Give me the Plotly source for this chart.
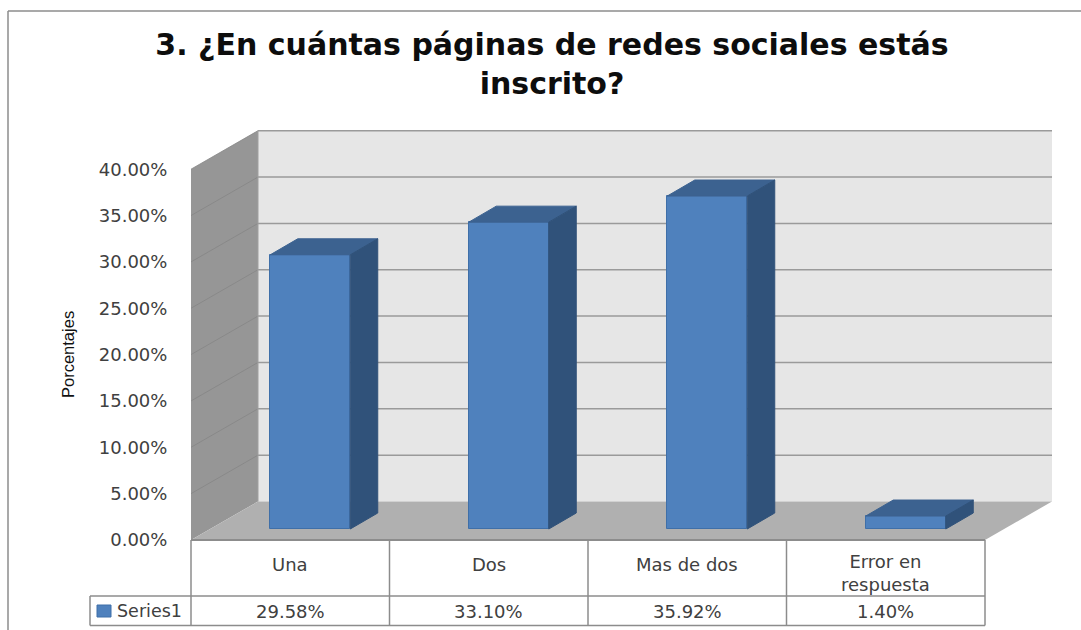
import plotly.graph_objects as go

categories = ["Una", "Dos", "Mas de dos", "Error en<br>respuesta"]
values = [29.58, 33.10, 35.92, 1.40]
value_labels = ["29.58%", "33.10%", "35.92%", "1.40%"]
tick_values = [0, 5, 10, 15, 20, 25, 30, 35, 40]
tick_labels = ["0.00%", "5.00%", "10.00%", "15.00%", "20.00%", "25.00%", "30.00%", "35.00%", "40.00%"]
series_name = "Series1"
title_text = "3. ¿En cuántas páginas de redes sociales estás<br>inscrito?"

W, H = 1081, 630
UX, UY = 198.5, 9.27          # pixels per category and per percentage point
X0_PX, Y0_PX = 191.0, 540.0   # pixel position of the front-left floor corner
def ux(px): return px / UX
def uy(px): return px / UY

n = len(categories)
wall_dx, wall_dy = ux(67), uy(38.5)   # oblique depth of the plot box
bar_x_off, bar_y_off = ux(20), uy(11)
bar_w = ux(80)
bar_dx, bar_dy = ux(27.5), uy(16)
ymax = tick_values[-1]
table_row1, table_row2 = uy(-56), uy(-85.5)
table_left = ux(-101)

fig = go.Figure()
shapes = []
annots = []

def poly(pts, fill, line=None, lw=0, layer="below"):
    path = "M" + " L".join(f"{a},{b}" for a, b in pts) + " Z"
    shapes.append(dict(type="path", path=path, xref="x", yref="y", fillcolor=fill, layer=layer,
                       line=dict(color=line or fill, width=lw)))

def seg(x1, y1, x2, y2, color="#8c8c8c", lw=1.5, layer="below"):
    shapes.append(dict(type="line", x0=x1, y0=y1, x1=x2, y1=y2, xref="x", yref="y", layer=layer,
                       line=dict(color=color, width=lw)))

# walls and floor
poly([(wall_dx, wall_dy), (n + wall_dx, wall_dy), (n + wall_dx, ymax + wall_dy), (wall_dx, ymax + wall_dy)], "#e6e6e6")
poly([(0, 0), (wall_dx, wall_dy), (wall_dx, ymax + wall_dy), (0, ymax)], "#969696")
poly([(0, 0), (n, 0), (n + wall_dx, wall_dy), (wall_dx, wall_dy)], "#b0b0b0")

# gridlines
for t in tick_values[1:]:
    seg(0, t, wall_dx, t + wall_dy, "#858585", 0.8)
    seg(wall_dx, t + wall_dy, n + wall_dx, t + wall_dy, "#9a9a9a", 1.5)
seg(wall_dx, wall_dy, wall_dx, ymax + wall_dy, "#a0a0a0", 1)

# data table
seg(0, 0, n, 0, "#8c8c8c", 2, "above")
seg(table_left, table_row1, n, table_row1)
seg(table_left, table_row2, n, table_row2)
seg(table_left, table_row1, table_left, table_row2)
for i in range(n + 1):
    seg(i, 0, i, table_row2)

# outer chart frame
frame_l, frame_t = ux(8 - X0_PX), uy(Y0_PX - 11)
right_edge, bottom_edge = ux(W - X0_PX), uy(Y0_PX - H)
seg(frame_l, frame_t, right_edge, frame_t, "#8c8c8c", 1.5)
seg(frame_l, frame_t, frame_l, bottom_edge, "#8c8c8c", 1.5)

# bars: front faces
xc = [i + 0.5 + bar_x_off for i in range(n)]
fig.add_trace(go.Bar(x=xc, y=values, base=[bar_y_off] * n, width=bar_w, name=series_name,
                     marker=dict(color="#4f81bd", line=dict(color="#3f6fa8", width=1)),
                     showlegend=False))

# bars: top and side faces derived from the values
for c, v in zip(xc, values):
    l, r = c - bar_w / 2, c + bar_w / 2
    b, t = bar_y_off, bar_y_off + v
    fig.add_trace(go.Scatter(x=[l, r, r + bar_dx, l + bar_dx, l], y=[t, t, t + bar_dy, t + bar_dy, t],
                             mode="lines", fill="toself", fillcolor="#3c6290",
                             line=dict(color="#3c6290", width=1), showlegend=False, hoverinfo="skip"))
    fig.add_trace(go.Scatter(x=[r, r + bar_dx, r + bar_dx, r, r], y=[b, b + bar_dy, t + bar_dy, t, b],
                             mode="lines", fill="toself", fillcolor="#30527a",
                             line=dict(color="#30527a", width=1), showlegend=False, hoverinfo="skip"))

# table text
TXT = "#404040"
FONT = "DejaVu Sans"
for i, (cat, lab) in enumerate(zip(categories, value_labels)):
    annots.append(dict(x=i + 0.5, y=uy(-24), text=cat, showarrow=False, xref="x", yref="y",
                       yshift=-9 if "<br>" in cat else 0,
                       font=dict(family=FONT, size=18, color=TXT)))
    annots.append(dict(x=i + 0.5, y=uy(-71), text=lab, showarrow=False, xref="x", yref="y",
                       font=dict(family=FONT, size=18, color=TXT)))
annots.append(dict(x=ux(-76), y=uy(-70.5), text=series_name, showarrow=False, xref="x", yref="y", xanchor="left",
                   font=dict(family=FONT, size=17.5, color=TXT)))
shapes.append(dict(type="rect", xref="x", yref="y", x0=ux(-94), x1=ux(-80), y0=uy(-65), y1=uy(-77),
                   fillcolor="#4f81bd", line=dict(color="#3f6fa8", width=1), layer="above"))

# axis title
annots.append(dict(x=ux(68 - X0_PX), y=uy(Y0_PX - 355), text="Porcentajes", textangle=-90, showarrow=False,
                   xref="x", yref="y",
                   font=dict(family="Liberation Sans", size=16.5, color="#111111")))

fig.update_layout(
    width=W, height=H,
    margin=dict(l=0, r=0, t=0, b=0),
    paper_bgcolor="white", plot_bgcolor="white",
    autosize=False,
    bargap=0,
    title=dict(text=title_text, x=552 / W, xanchor="center", y=1 - 55 / H, yanchor="top",
               font=dict(family="DejaVu Sans", size=30, color="#0d0d0d", weight="bold")),
    shapes=shapes, annotations=annots,
    xaxis=dict(visible=False, range=[ux(-X0_PX), ux(W - X0_PX)], domain=[0, 1], fixedrange=True),
    yaxis=dict(range=[uy(Y0_PX - H), uy(Y0_PX)], domain=[0, 1], anchor="free", position=X0_PX / W,
               tickmode="array", tickvals=tick_values, ticktext=tick_labels,
               showgrid=False, zeroline=False, showline=False,
               ticks="outside", ticklen=20, tickcolor="rgba(0,0,0,0)",
               tickfont=dict(family=FONT, size=18, color=TXT)),
)
fig.write_html("out.html", config={"displayModeBar": False},
               post_script="document.body.style.margin='0';document.body.style.overflow='hidden';")
